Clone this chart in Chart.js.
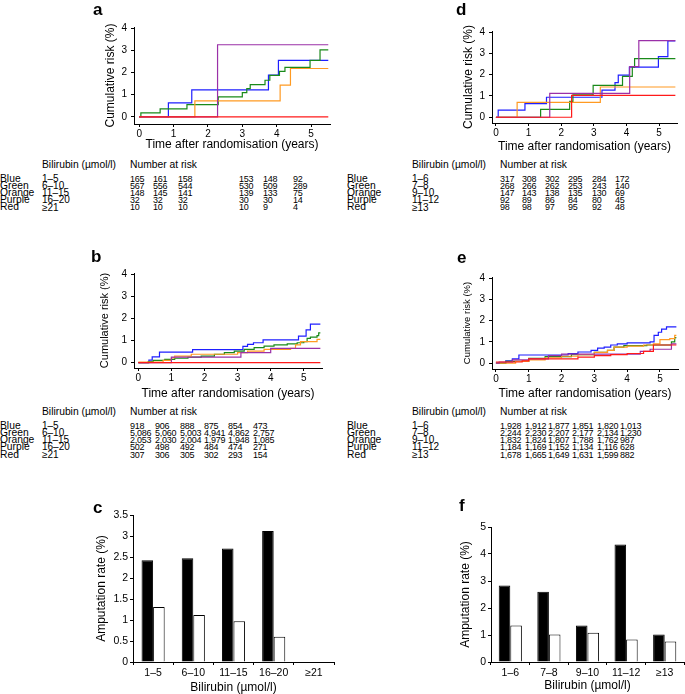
<!DOCTYPE html>
<html>
<head>
<meta charset="utf-8">
<script src="https://cdn.jsdelivr.net/npm/chart.js"></script>
<style>
  html, body { margin: 0; padding: 0; background: #fff; }
  body { position: relative; width: 685px; height: 694px; overflow: hidden;
         font-family: "Liberation Sans", Arial, sans-serif; color: #000; }
  .t { position: absolute; white-space: nowrap; line-height: 1; }
  .n { letter-spacing: -0.25px; }
</style>
</head>
<body>
<script>
// ---------------- data ----------------
// Kaplan-Meier steps, [years, cumulative risk %]
const aBlue = [[0,0],[0.85,0.63],[1.53,1.22],[3.76,1.88],[4.05,2.55],[5.5,2.55]];
const aGreen = [[0,0],[0.05,0.18],[0.61,0.36],[1.39,0.55],[2.3,0.9],[3.0,1.09],[3.13,1.27],[3.23,1.45],[3.66,1.65],[3.8,1.87],[4.08,2.05],[4.24,2.23],[4.97,2.55],[5.26,3.02],[5.5,3.02]];
const aOrange = [[0,0],[1.62,0.72],[4.1,1.43],[4.4,2.18],[5.5,2.18]];
const aPurple = [[0,0],[2.28,3.25],[5.5,3.25]];
const aRed = [[0,0],[5.5,0]];

const dBlue = [[0,0],[0.07,0.33],[0.89,0.64],[1.55,0.94],[3.25,1.27],[3.65,1.63],[3.75,1.98],[4.09,2.35],[4.98,2.85],[5.27,3.58],[5.5,3.58]];
const dGreen = [[0,0],[1.37,0.37],[2.26,0.75],[2.36,1.05],[2.98,1.5],[3.88,1.92],[4.18,2.35],[4.25,2.75],[5.5,2.75]];
const dOrange = [[0,0],[0.65,0.7],[3.2,1.42],[5.5,1.42]];
const dPurple = [[0,0],[1.65,1.12],[4.1,2.38],[4.38,3.6],[5.5,3.6]];
const dRed = [[0,0],[2.32,1.03],[5.5,1.03]];

const bBlue = [[0,0],[0.32,0.12],[0.42,0.26],[0.64,0.48],[1.64,0.59],[3.16,0.74],[3.3,0.83],[3.48,0.9],[3.77,1.03],[4.84,1.2],[5.07,1.48],[5.2,1.74],[5.5,1.74]];
const bGreen = [[0,0],[0.3,0.05],[0.45,0.1],[0.8,0.15],[1.1,0.2],[1.5,0.25],[1.9,0.3],[2.3,0.38],[2.6,0.45],[2.9,0.52],[3.2,0.6],[3.5,0.68],[3.8,0.75],[4.1,0.8],[4.5,0.85],[4.8,0.9],[5.0,0.95],[5.1,1.1],[5.2,1.15],[5.4,1.22],[5.45,1.35],[5.5,1.35]];
const bOrange = [[0,0.03],[0.75,0.1],[1.0,0.22],[1.1,0.3],[1.6,0.38],[3.0,0.45],[3.3,0.52],[3.8,0.6],[4.6,0.65],[4.75,0.8],[4.9,0.95],[5.4,1.05],[5.5,1.05]];
const bPurple = [[0,0],[1.0,0.25],[3.1,0.45],[4.0,0.65],[5.5,0.65]];
const bRed = [[0,0],[5.5,0]];

const eBlue = [[0,0],[0.3,0.1],[0.5,0.2],[0.7,0.38],[2.2,0.45],[2.5,0.52],[2.9,0.6],[3.1,0.7],[3.3,0.75],[3.5,0.85],[3.7,0.9],[4.0,0.95],[4.7,1.0],[4.82,1.3],[4.95,1.45],[5.05,1.6],[5.2,1.7],[5.5,1.7]];
const eGreen = [[0,0],[0.3,0.08],[1.0,0.22],[1.5,0.3],[2.3,0.4],[3.0,0.5],[3.4,0.6],[3.6,0.75],[3.9,0.82],[4.6,0.85],[5.35,1.0],[5.45,1.2],[5.5,1.2]];
const eOrange = [[0,0],[0.6,0.08],[1.0,0.15],[1.5,0.25],[2.0,0.32],[2.5,0.4],[3.0,0.5],[3.4,0.6],[3.6,0.75],[4.0,0.8],[4.5,0.85],[4.8,0.9],[5.0,1.1],[5.3,1.15],[5.45,1.3],[5.5,1.3]];
const ePurple = [[0,0],[0.1,0.05],[0.5,0.15],[1.0,0.2],[1.6,0.35],[2.0,0.42],[4.4,0.55],[4.7,0.65],[5.35,0.9],[5.5,0.9]];
const eRed = [[0,0.05],[0.8,0.1],[1.0,0.2],[2.5,0.28],[3.0,0.35],[3.5,0.4],[4.0,0.45],[4.5,0.55],[4.8,0.85],[5.5,0.85]];

const timeTicks = [0, 1, 2, 3, 4, 5];
const riskTicks = [0, 1, 2, 3, 4];

// number at risk tables
const groupNames = ["Blue", "Green", "Orange", "Purple", "Red"];
const rangesLeft = ["1–5", "6–10", "11–15", "16–20", "≥21"];
const rangesRight = ["1–6", "7–8", "9–10", "11–12", "≥13"];
const riskA = [[165,161,158,153,148,92],[567,556,544,530,509,289],[148,145,141,139,133,75],[32,32,32,30,30,14],[10,10,10,10,9,4]];
const riskD = [[317,308,302,295,284,172],[268,266,262,253,243,140],[147,143,138,135,130,69],[92,89,86,84,80,45],[98,98,97,95,92,48]];
const riskB = [[918,906,888,875,854,473],[5086,5060,5003,4941,4862,2757],[2053,2030,2004,1979,1948,1085],[502,498,492,484,474,271],[307,306,305,302,293,154]];
const riskE = [[1928,1912,1877,1851,1820,1013],[2244,2230,2207,2177,2134,1230],[1832,1824,1807,1788,1762,987],[1184,1169,1152,1134,1116,628],[1678,1665,1649,1631,1599,882]];

// amputation rates
const cCats = ["1–5", "6–10", "11–15", "16–20", "≥21"];
const cBlack = [2.42, 2.47, 2.7, 3.12, 0];
const cWhite = [1.31, 1.12, 0.97, 0.6, 0];
const fCats = ["1–6", "7–8", "9–10", "11–12", "≥13"];
const fBlack = [2.83, 2.6, 1.35, 4.35, 1.02];
const fWhite = [1.35, 1.02, 1.08, 0.83, 0.76];

// ---------------- drawing ----------------
Chart.defaults.font.family = "'Liberation Sans', Arial, sans-serif";
Chart.defaults.color = "#000";
Chart.defaults.animation = false;

const colBlue = "#1f1fff", colGreen = "#1a8a1a", colOrange = "#ff9a22", colPurple = "#9a30a8", colRed = "#ff1a1a";

function text(str, x, yc, size, bold, cls) {
  const d = document.createElement("div");
  d.className = "t" + (cls ? " " + cls : "");
  d.textContent = str;
  d.style.left = x + "px";
  d.style.top = (yc - size * 0.49) + "px";
  d.style.fontSize = size + "px";
  if (bold) d.style.fontWeight = "bold";
  document.body.appendChild(d);
}

function canvasAt(left, top, w, h) {
  const c = document.createElement("canvas");
  c.width = w; c.height = h;
  c.style.cssText = "position:absolute;left:" + left + "px;top:" + top + "px;width:" + w + "px;height:" + h + "px";
  document.body.appendChild(c);
  return c;
}

function axisGrid() {
  return { drawOnChartArea: false, drawTicks: true, tickLength: 3, color: "#000", lineWidth: 1 };
}

function km(area, xMin, yMin, titleCx, ySize, xTitleCy, series) {
  const PT = 14, PR = 6;
  const left = Math.round(titleCx - 4 - ySize * 0.6);
  const top = area.t - PT;
  const bottom = Math.round(xTitleCy + 4 + 7.2);
  const w = area.r + PR - left, h = bottom - top;
  const yw = area.l - left, xh = bottom - area.b;
  const cv = canvasAt(left, top, w, h);
  new Chart(cv, {
    type: "line",
    data: {
      datasets: series.map(s => ({
        data: s.pts.map(p => ({ x: p[0], y: p[1] })),
        borderColor: s.color,
        borderWidth: 1.2,
        pointRadius: 0,
        stepped: "before",
        fill: false
      }))
    },
    options: {
      responsive: false,
      layout: { padding: { top: PT, right: PR, left: 0, bottom: 0 } },
      plugins: { legend: { display: false }, tooltip: { enabled: false } },
      scales: {
        x: {
          type: "linear", min: xMin, max: 5.55,
          afterBuildTicks: s => { s.ticks = timeTicks.map(v => ({ value: v })); },
          afterFit: s => { s.height = xh; },
          ticks: { font: { size: 10 }, padding: 1, maxRotation: 0, autoSkip: false },
          grid: axisGrid(),
          border: { display: true, color: "#000", width: 1 },
          title: { display: true, text: "Time after randomisation (years)", font: { size: 12 }, padding: 4 }
        },
        y: {
          type: "linear", min: yMin, max: 4.05,
          afterBuildTicks: s => { s.ticks = riskTicks.map(v => ({ value: v })); },
          afterFit: s => { s.width = yw; },
          ticks: { font: { size: 10 }, padding: 4 },
          grid: axisGrid(),
          border: { display: true, color: "#000", width: 1 },
          title: { display: true, text: "Cumulative risk (%)", font: { size: ySize }, padding: 4 }
        }
      }
    }
  });
}

function bars(area, titleCx, xTitleCy, cats, black, white, yMax, step, catPct) {
  const PT = 14, PR = 2;
  const left = Math.round(titleCx - 4 - 7.2);
  const top = area.t - PT;
  const bottom = Math.round(xTitleCy + 7.2);
  const w = area.r + PR - left, h = bottom - top;
  const yw = area.l - left, xh = bottom - area.b;
  const cv = canvasAt(left, top, w, h);
  new Chart(cv, {
    type: "bar",
    data: {
      labels: cats,
      datasets: [
        { data: black, backgroundColor: "#000", borderColor: "#000", borderWidth: 1 },
        { data: white, backgroundColor: "#fff", borderColor: "#000", borderWidth: 1 }
      ]
    },
    options: {
      responsive: false,
      categoryPercentage: catPct,
      barPercentage: 1,
      layout: { padding: { top: PT, right: PR, left: 0, bottom: 0 } },
      plugins: { legend: { display: false }, tooltip: { enabled: false } },
      scales: {
        x: {
          afterFit: s => { s.height = xh; },
          ticks: { font: { size: 10.5 }, padding: 2, maxRotation: 0, autoSkip: false },
          grid: Object.assign(axisGrid(), { offset: true }),
          border: { display: true, color: "#000", width: 1 },
          title: { display: true, text: "Bilirubin (µmol/l)", font: { size: 12 }, padding: 0 }
        },
        y: {
          min: 0, max: yMax,
          afterFit: s => { s.width = yw; },
          ticks: { font: { size: 10.5 }, padding: 2, stepSize: step, callback: v => String(v) },
          grid: axisGrid(),
          border: { display: true, color: "#000", width: 1 },
          title: { display: true, text: "Amputation rate (%)", font: { size: 12 }, padding: 4 }
        }
      }
    }
  });
}

function riskTable(x0, xRange, xNums, yHead, yRows, ranges, rows) {
  text("Bilirubin (µmol/l)", xRange, yHead, 10.3);
  text("Number at risk", xNums[0], yHead, 10.3);
  groupNames.forEach((g, i) => {
    text(g, x0, yRows[i], 10.3);
    text(ranges[i], xRange, yRows[i], 10);
    rows[i].forEach((v, j) => text(v.toLocaleString("en-US"), xNums[j], yRows[i], 9, false, "n"));
  });
}

function kmSeries(red, purple, orange, green, blue) {
  return [
    { pts: red, color: colRed },
    { pts: purple, color: colPurple },
    { pts: orange, color: colOrange },
    { pts: green, color: colGreen },
    { pts: blue, color: colBlue }
  ];
}

// panel a
km({ l: 134, r: 330, t: 27, b: 124 }, -0.15, -0.32, 110, 12, 145, kmSeries(aRed, aPurple, aOrange, aGreen, aBlue));
// panel d
km({ l: 492, r: 677, t: 31, b: 123 }, -0.12, -0.27, 468, 12, 147, kmSeries(dRed, dPurple, dOrange, dGreen, dBlue));
// panel b
km({ l: 134, r: 322, t: 273, b: 368 }, -0.13, -0.24, 105, 11, 394, kmSeries(bRed, bPurple, bOrange, bGreen, bBlue));
// panel e
km({ l: 492, r: 678, t: 277, b: 369 }, -0.12, -0.28, 468, 9.5, 394, kmSeries(eRed, ePurple, eOrange, eGreen, eBlue));
// panel c
bars({ l: 133, r: 334, t: 515, b: 662 }, 101, 688, cCats, cBlack, cWhite, 3.5, 0.5, 0.575);
// panel f
bars({ l: 491, r: 684, t: 527, b: 662 }, 465, 686, fCats, fBlack, fWhite, 5, 1, 0.6);

// tables
const rowsTop = [179, 186, 193, 200, 207.5];
const rowsMid = [426, 433, 440, 447, 455];
riskTable(0, 42, [130, 153, 178, 239, 263, 293], 165, rowsTop, rangesLeft, riskA);
riskTable(347, 412, [500, 522, 545, 568, 592, 615], 165, rowsTop, rangesRight, riskD);
riskTable(0, 42, [130, 155, 180, 204, 228, 253], 412, rowsMid, rangesLeft, riskB);
riskTable(347, 412, [500, 525, 548, 572, 597, 620], 412, rowsMid, rangesRight, riskE);

// panel letters
text("a", 93, 9, 17, true);
text("d", 456, 9, 17, true);
text("b", 91, 256, 17, true);
text("e", 457, 257, 17, true);
text("c", 93, 507, 17, true);
text("f", 459, 505, 17, true);
</script>
</body>
</html>
